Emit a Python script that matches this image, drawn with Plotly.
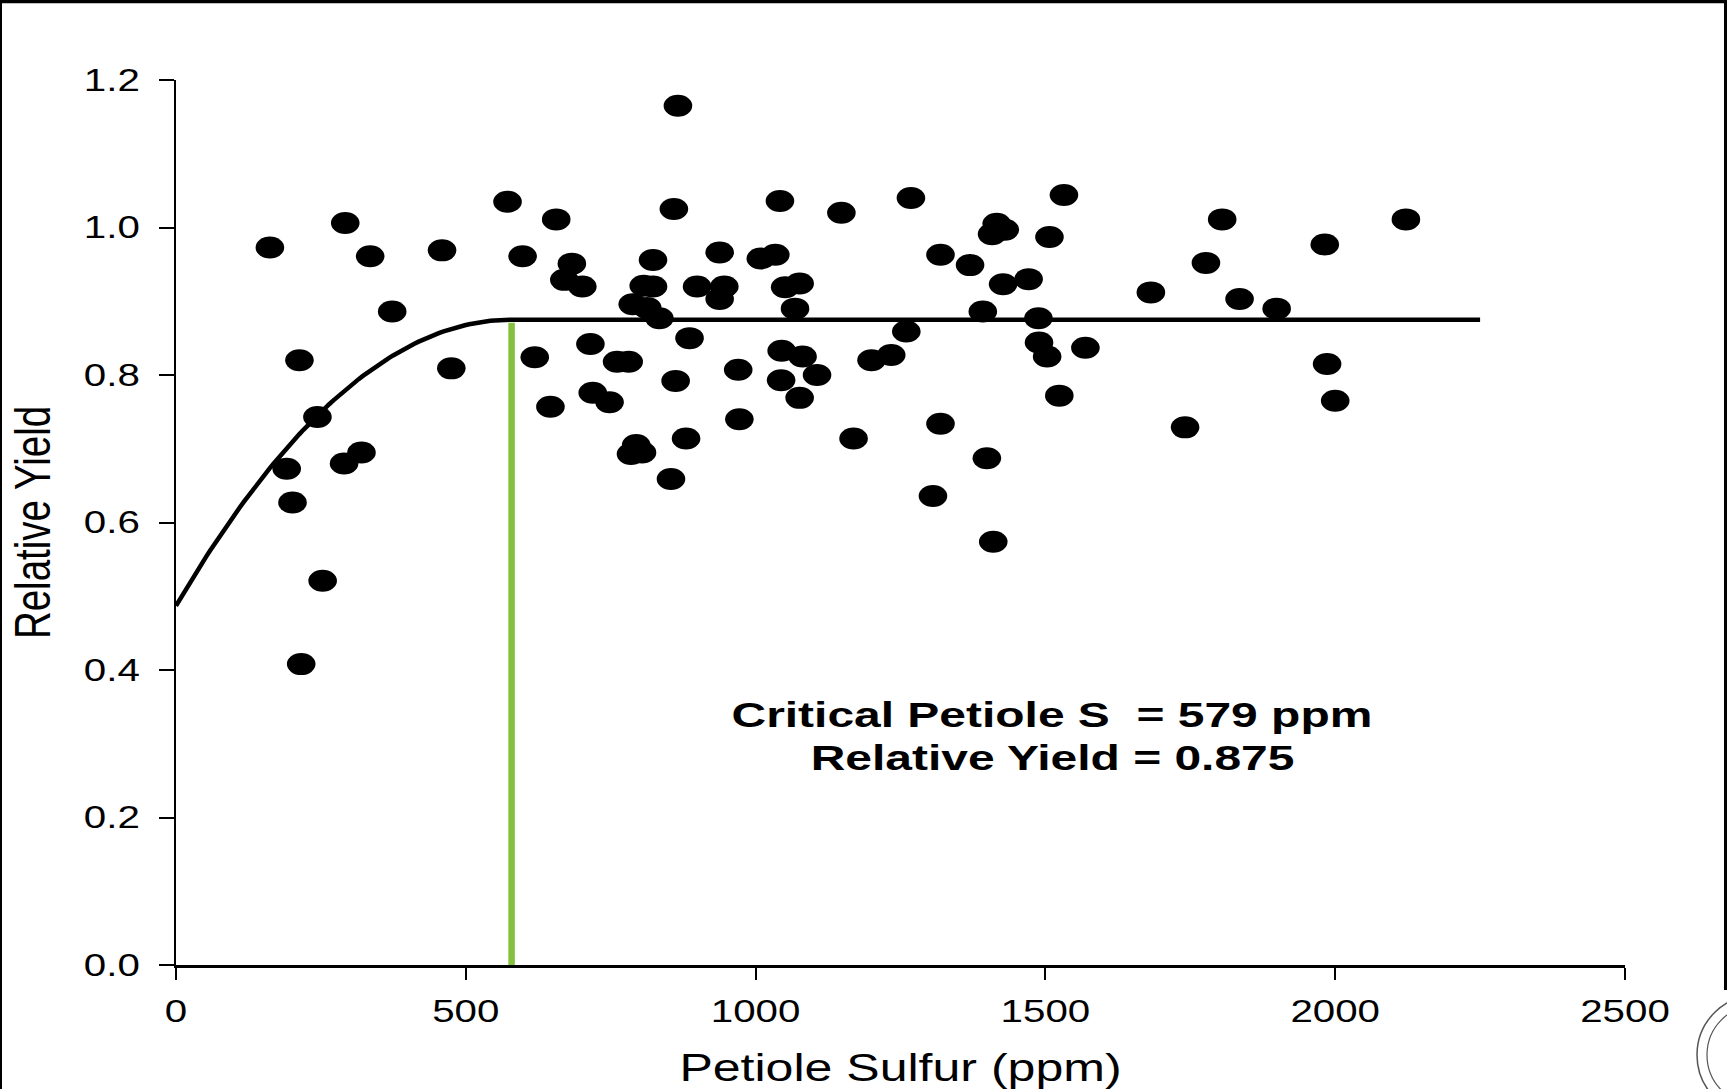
import plotly.graph_objects as go
import numpy as np

# ---- data ----
petiole_s = [162, 191, 201, 213, 216, 244, 253, 290, 292, 320, 335, 373, 459, 475,
             572, 598, 619, 646, 656, 670, 683, 701, 715, 719, 748, 761, 781, 785,
             788, 794, 804, 807, 813, 823, 823, 834, 854, 859, 862, 866, 880, 886,
             899, 938, 938, 946, 970, 972, 1009, 1034, 1042, 1044, 1045, 1051, 1068,
             1076, 1076, 1081, 1106, 1148, 1169, 1200, 1234, 1260, 1268, 1306, 1319,
             1319, 1370, 1392, 1399, 1408, 1410, 1416, 1427, 1430, 1471, 1488, 1489,
             1503, 1507, 1524, 1532, 1569, 1682, 1741, 1777, 1805, 1835, 1899, 1982,
             1986, 2000, 2122]
rel_yield = [0.973, 0.673, 0.627, 0.820, 0.408, 0.743, 0.521, 0.680, 1.006, 0.695,
             0.961, 0.886, 0.969, 0.809, 1.035, 0.961, 0.824, 0.757, 1.011, 0.929,
             0.951, 0.920, 0.842, 0.776, 0.763, 0.818, 0.818, 0.693, 0.896, 0.705,
             0.695, 0.921, 0.891, 0.956, 0.920, 0.877, 0.659, 1.025, 0.792, 1.165,
             0.714, 0.850, 0.920, 0.966, 0.903, 0.920, 0.807, 0.740, 0.958, 0.963,
             1.036, 0.793, 0.833, 0.919, 0.890, 0.924, 0.769, 0.825, 0.800, 1.020,
             0.714, 0.820, 0.827, 0.859, 1.040, 0.636, 0.963, 0.734, 0.949, 0.886,
             0.687, 0.991, 0.574, 1.005, 0.923, 0.997, 0.930, 0.877, 0.844, 0.825,
             0.987, 0.772, 1.044, 0.837, 0.912, 0.729, 0.952, 1.011, 0.903, 0.890,
             0.977, 0.815, 0.765, 1.011]

# quadratic-plateau model shown on the chart
intercept = 0.487
lin_coef = 0.00134
quad_coef = -1.157e-6
critical_s = 579
plateau_y = 0.875
plateau_end = 2250

x_ticks = [0, 500, 1000, 1500, 2000, 2500]
x_tick_text = ["0", "500", "1000", "1500", "2000", "2500"]
y_ticks = [0.0, 0.2, 0.4, 0.6, 0.8, 1.0, 1.2]
y_tick_text = ["0.0", "0.2", "0.4", "0.6", "0.8", "1.0", "1.2"]

W, H = 1727, 1089
ML, MR, MT, MB = 176, 102, 80, 124
PW, PH = W - ML - MR, H - MT - MB

def px_x(p):
    return (p - ML) / PW

def px_y(p):
    return (H - MB - p) / PH

FONT = "Liberation Sans, Arial, Helvetica, sans-serif"

curve_x = list(np.linspace(0, critical_s, 80)) + [plateau_end]
curve_y = [intercept + lin_coef * x + quad_coef * x * x for x in curve_x[:-1]] + [plateau_y]

fig = go.Figure()
fig.add_trace(go.Scatter(x=[critical_s, critical_s], y=[0, plateau_y - 0.004], mode="lines",
                         line=dict(color="#86c03f", width=6.5), showlegend=False, hoverinfo="skip"))
fig.add_trace(go.Scatter(x=curve_x, y=curve_y, mode="lines",
                         line=dict(color="black", width=4.5), showlegend=False, hoverinfo="skip"))
fig.add_trace(go.Scatter(x=petiole_s, y=rel_yield, mode="markers",
                         marker=dict(color="black", size=22, line=dict(width=0)),
                         showlegend=False, cliponaxis=False))

fig.add_annotation(x=1512, y=(964.8 - 714.4) / 737.3, xref="x", yref="y", showarrow=False,
                   text="<b>Critical Petiole S\u00a0 = 579 ppm</b>", borderpad=0,
                   font=dict(family=FONT, size=35, color="black"))
fig.add_annotation(x=1512, y=(964.8 - 757.6) / 737.3, xref="x", yref="y", showarrow=False,
                   text="<b>Relative Yield = 0.875</b>", borderpad=0,
                   font=dict(family=FONT, size=35, color="black"))

shapes = []
# image frame (left, top, right)
shapes.append(dict(type="line", xref="paper", yref="paper", x0=px_x(1), x1=px_x(1),
                   y0=px_y(0), y1=px_y(H), line=dict(color="black", width=2)))
shapes.append(dict(type="line", xref="paper", yref="paper", x0=px_x(0), x1=px_x(W),
                   y0=px_y(1.5), y1=px_y(1.5), line=dict(color="black", width=3.5)))
shapes.append(dict(type="line", xref="paper", yref="paper", x0=px_x(1725.5), x1=px_x(1725.5),
                   y0=px_y(0), y1=px_y(990), line=dict(color="black", width=3)))
# partial seal in the corner
for r, wdt in [(60, 1.5), (50, 1.2)]:
    shapes.append(dict(type="circle", xref="paper", yref="paper",
                       xsizemode="pixel", ysizemode="pixel",
                       xanchor=px_x(1757), yanchor=px_y(1055),
                       x0=-r, x1=r, y0=-r, y1=r,
                       line=dict(color="#555555", width=wdt)))

fig.update_layout(
    width=W, height=H,
    margin=dict(l=ML, r=MR, t=MT, b=MB, autoexpand=False),
    paper_bgcolor="white", plot_bgcolor="white",
    font=dict(family=FONT, color="black"),
    shapes=shapes,
    showlegend=False,
)
fig.update_xaxes(range=[0, 2500], tickvals=x_ticks, ticktext=x_tick_text,
                 showgrid=False, zeroline=False, showline=True, linecolor="black", linewidth=3,
                 ticks="outside", ticklen=12, tickwidth=2, tickcolor="black",
                 ticklabelstandoff=5,
                 tickfont=dict(family=FONT, size=31, color="black"),
                 title=dict(text="Petiole Sulfur (ppm)", font=dict(family=FONT, size=38.5, color="black"),
                            standoff=26),
                 automargin=False)
fig.update_yaxes(range=[0, 1.2], tickvals=y_ticks, ticktext=y_tick_text,
                 showgrid=False, zeroline=False, showline=True, linecolor="black", linewidth=2,
                 ticks="outside", ticklen=15, tickwidth=2, tickcolor="black",
                 ticklabelstandoff=13,
                 tickfont=dict(family=FONT, size=31, color="black"),
                 title=dict(text="Relative Yield", font=dict(family=FONT, size=38.5, color="black"),
                            standoff=38),
                 automargin=False)

# The source image is horizontally stretched (~1.3x): widen markers and text glyphs
# about their own anchor points so positions stay on the axes.
post_js = """
(function(){
  var gd = document.getElementById('{plot_id}');
  var SX = 1.3, SXA = 1.37;
  function stretchAll(){
    try {
      gd.querySelectorAll('.scatterlayer path.point').forEach(function(p){
        var t = p.getAttribute('transform') || '';
        if (t.indexOf('scale(') < 0) p.setAttribute('transform', t + ' scale(' + SX + ',1)');
      });
      gd.querySelectorAll('text').forEach(function(el){
        var t = el.getAttribute('transform') || '';
        if (el.getAttribute('data-st') === t && t.indexOf('scale(') >= 0) return;
        var bb = el.getBBox();
        if (!bb || bb.width === 0) return;
        var anchor = el.getAttribute('text-anchor') || el.style.textAnchor || 'start';
        var cls = el.getAttribute('class') || '';
        var ax = bb.x;
        if (anchor === 'end') ax = bb.x + bb.width;
        else if (anchor === 'middle') ax = bb.x + bb.width / 2;
        var ay = bb.y + bb.height / 2;
        var s;
        if (cls.indexOf('ytitle') >= 0) { s = 'scale(1,' + SX + ')'; }
        else if (cls.indexOf('annotation') >= 0) { s = 'scale(' + SXA + ',1)'; }
        else { s = 'scale(' + SX + ',1)'; }
        var nt = t + ' translate(' + ax + ',' + ay + ') ' + s +
                 ' translate(' + (-ax) + ',' + (-ay) + ')';
        el.setAttribute('transform', nt);
        el.setAttribute('data-st', nt);
      });
    } catch (e) {}
  }
  stretchAll();
  [0, 30, 100, 300, 800, 1500].forEach(function(ms){ setTimeout(stretchAll, ms); });
})();
"""

fig.write_html("out.html", config={"displayModeBar": False, "responsive": False},
               post_script=post_js)
